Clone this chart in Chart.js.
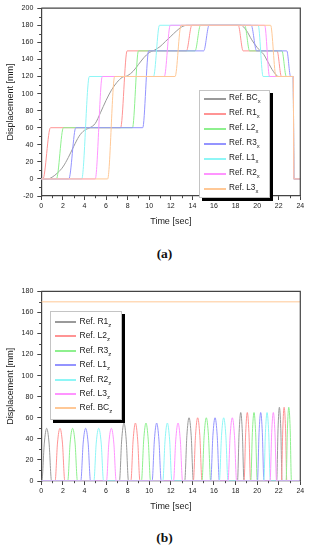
<!DOCTYPE html>
<html><head><meta charset="utf-8">
<script src="https://cdn.jsdelivr.net/npm/chart.js@4"></script>
<style>
html,body{margin:0;padding:0;background:#fff;}
body{width:311px;height:550px;position:relative;overflow:hidden;font-family:"Liberation Sans",Arial,sans-serif;}
canvas{position:absolute;left:0;}
#ca{top:0;}
#cb{top:270px;}
.leg{position:absolute;background:#fff;border:1px solid #c4c4c4;box-shadow:3px 3px 0 #000;box-sizing:border-box;}
.row{position:absolute;left:0;height:0;width:100%;}
.smp{position:absolute;height:2px;top:-1px;}
.txt{position:absolute;white-space:nowrap;color:#222;line-height:1;top:0;transform:translateY(-58%);}
.txt sub{font-size:72%;vertical-align:-0.4em;line-height:0;}
.lab{position:absolute;font-family:"Liberation Serif","Times New Roman",serif;font-weight:bold;font-size:13.5px;line-height:1;transform:translate(-50%,-50%);color:#111;}
</style></head>
<body>
<canvas id="ca" width="311" height="230" style="width:311px;height:230px"></canvas>
<canvas id="cb" width="311" height="245" style="width:311px;height:245px"></canvas>
<div class="lab" style="left:164.5px;top:253.5px">(a)</div>
<div class="lab" style="left:164.5px;top:537.5px">(b)</div>
<div id="legA" class="leg" style="left:199px;top:90px;width:71px;height:108px"></div>
<div id="legB" class="leg" style="left:50px;top:311px;width:72px;height:109px"></div>
<script>
// ---------- data: chart (a) x-displacement [time sec, mm] ----------
const namesA = ['BC','R1','L2','R3','L1','R2','L3'];
const bcX = [[0,0],[0.6,0],[1.0,2],[1.5,7],[2.0,14],[2.5,25],[3.0,38],[3.5,50],[4.0,57],[4.5,60],[5.0,65],[5.5,78],[6.0,92],[6.5,104],[7.0,113],[7.5,119],[8.0,121],[8.5,126],[9.0,134],[9.5,142],[10.0,148],[10.5,151],[11.0,155],[11.5,161],[12.0,167],[12.5,173],[13.0,178],[13.5,180],[18.5,180],[19.0,174],[19.5,163],[20.0,154],[20.3,150],[20.6,146],[21.0,137],[21.5,126],[22.0,120],[23.35,120],[23.4,0],[24,0]];
const r1X = [[0,0],[0.15,0],[0.85,60],[7.35,60],[7.95,150],[13.45,150],[13.95,180],[18.25,180],[18.7,150],[21.85,150],[22.25,120],[23.35,120],[23.4,0],[24,0]];
const l2X = [[0,0],[1.4,0],[2.05,60],[8.45,60],[9.0,150],[14.25,150],[14.75,180],[18.85,180],[19.3,150],[22.3,150],[22.7,120],[23.35,120],[23.4,0],[24,0]];
const r3X = [[0,0],[2.55,0],[3.2,60],[9.4,60],[9.95,150],[15.05,150],[15.55,180],[19.45,180],[19.95,150],[22.75,150],[23.1,120],[23.35,120],[23.4,0],[24,0]];
const l1X = [[0,0],[3.75,0],[4.45,120],[10.4,120],[10.95,180],[20.1,180],[20.55,120],[23.35,120],[23.4,0],[24,0]];
const r2X = [[0,0],[5.0,0],[5.65,120],[11.4,120],[11.95,180],[20.7,180],[21.15,120],[23.35,120],[23.4,0],[24,0]];
const l3X = [[0,0],[6.15,0],[6.8,120],[12.4,120],[12.95,180],[21.25,180],[21.75,120],[23.35,120],[23.4,0],[24,0]];
const seriesA = [bcX, r1X, l2X, r3X, l1X, r2X, l3X];

// ---------- data: chart (b) z-displacement [time sec, mm] ----------
const namesB = ['R1','L2','R3','L1','R2','L3','BC'];
const r1Z = [[0,0],[0.05,0],[0.28,36],[0.5,50],[0.72,36],[0.95,0],
  [7.24,0],[7.45,39],[7.66,55],[7.87,39],[8.08,0],
  [13.29,0],[13.49,43],[13.69,60],[13.89,43],[14.09,0],
  [18.18,0],[18.33,46],[18.48,65],[18.63,46],[18.78,0],
  [21.81,0],[21.94,50],[22.06,70],[22.19,50],[22.31,0],[24,0]];
const l2Z = [[0,0],[1.28,0],[1.5,36],[1.73,50],[1.96,36],[2.18,0],
  [8.3,0],[8.51,39],[8.72,55],[8.93,39],[9.14,0],
  [14.09,0],[14.29,43],[14.49,60],[14.69,43],[14.89,0],
  [18.79,0],[18.94,46],[19.09,65],[19.24,46],[19.39,0],
  [22.25,0],[22.38,50],[22.5,70],[22.63,50],[22.75,0],[24,0]];
const r3Z = [[0,0],[2.45,0],[2.67,36],[2.9,50],[3.13,36],[3.35,0],
  [9.28,0],[9.49,39],[9.7,55],[9.91,39],[10.12,0],
  [14.89,0],[15.09,43],[15.29,60],[15.49,43],[15.69,0],
  [19.41,0],[19.56,46],[19.71,65],[19.86,46],[20.01,0],
  [22.68,0],[22.81,50],[22.93,70],[23.06,50],[23.18,0],[24,0]];
const l1Z = [[0,0],[3.66,0],[3.88,36],[4.11,50],[4.34,36],[4.56,0],
  [10.27,0],[10.48,39],[10.69,55],[10.9,39],[11.11,0],
  [15.7,0],[15.9,43],[16.1,60],[16.3,43],[16.5,0],
  [20.03,0],[20.18,46],[20.33,65],[20.48,46],[20.63,0],[24,0]];
const r2Z = [[0,0],[4.87,0],[5.09,36],[5.32,50],[5.55,36],[5.77,0],
  [11.26,0],[11.47,39],[11.68,55],[11.89,39],[12.1,0],
  [16.5,0],[16.7,43],[16.9,60],[17.1,43],[17.3,0],
  [20.62,0],[20.77,46],[20.92,65],[21.07,46],[21.22,0],[24,0]];
const l3Z = [[0,0],[6.04,0],[6.26,36],[6.49,50],[6.72,36],[6.94,0],
  [12.25,0],[12.46,39],[12.67,55],[12.88,39],[13.09,0],
  [17.3,0],[17.5,43],[17.7,60],[17.9,43],[18.1,0],
  [21.2,0],[21.35,46],[21.5,65],[21.65,46],[21.8,0],[24,0]];
const bcZ = [[0,170],[24,170]];
const seriesB = [r1Z, l2Z, r3Z, l1Z, r2Z, l3Z, bcZ];

// ---------- styles ----------
const colorsA = ['#9a9a9a','#ff9494','#8ef08e','#9494ff','#8ef6f6','#ff94ff','#ffc896'];
const colorsB = ['#9a9a9a','#ff9494','#8ef08e','#9494ff','#8ef6f6','#ff94ff','#ffc896'];
const FONT = '"Liberation Sans", Arial, sans-serif';
const AX = '#444';

function makeDatasets(series, names, colors, sub) {
  const n = series.length;
  return series.map((s, i) => ({
    label: 'Ref. ' + names[i] + sub,
    data: s.map(p => ({x: p[0], y: p[1]})),
    borderColor: colors[i],
    borderWidth: 1,
    pointRadius: 0,
    fill: false,
    cubicInterpolationMode: 'monotone',
    order: n - i
  }));
}

const minorTicks = {
  id: 'minorTicks',
  afterDraw(chart) {
    const ctx = chart.ctx;
    const xs = chart.scales.x, ys = chart.scales.y;
    ctx.save();
    ctx.strokeStyle = AX; ctx.lineWidth = 1;
    ctx.beginPath();
    for (let i = 0; i < xs.ticks.length - 1; i++) {
      const v = (xs.ticks[i].value + xs.ticks[i+1].value) / 2;
      const px = Math.round(xs.getPixelForValue(v)) + 0.5;
      ctx.moveTo(px, chart.chartArea.bottom); ctx.lineTo(px, chart.chartArea.bottom + 2.2);
    }
    for (let i = 0; i < ys.ticks.length - 1; i++) {
      const v = (ys.ticks[i].value + ys.ticks[i+1].value) / 2;
      const py = Math.round(ys.getPixelForValue(v)) + 0.5;
      ctx.moveTo(chart.chartArea.left, py); ctx.lineTo(chart.chartArea.left - 2.2, py);
    }
    ctx.stroke();
    const a = chart.chartArea;
    ctx.lineWidth = 1.2;
    ctx.beginPath();
    ctx.moveTo(a.left, a.top); ctx.lineTo(a.right, a.top); ctx.lineTo(a.right, a.bottom);
    ctx.stroke();
    ctx.restore();
  }
};

function makeChart(id, datasets, yMin, yMax, canvasH, plotTop, plotBottom) {
  const tickFont = {family: FONT, size: 7};
  const titleFont = {family: FONT, size: 9};
  return new Chart(document.getElementById(id), {
    type: 'line',
    data: {datasets},
    options: {
      responsive: false, animation: false, devicePixelRatio: 1,
      layout: {padding: {left: 0, right: 10.7, top: plotTop, bottom: 0}},
      plugins: {legend: {display: false}, tooltip: {enabled: false}},
      scales: {
        x: {
          type: 'linear', min: 0, max: 24,
          afterFit: s => { s.height = canvasH - plotBottom; },
          ticks: {stepSize: 2, autoSkip: false, maxRotation: 0, padding: 2, color: '#222', font: tickFont},
          grid: {drawOnChartArea: false, drawTicks: true, tickLength: 4, tickColor: AX, tickWidth: 1},
          border: {display: true, color: AX, width: 1.2},
          title: {display: true, text: 'Time [sec]', color: '#222', font: titleFont, padding: {top: 0, bottom: 3.5}}
        },
        y: {
          type: 'linear', min: yMin, max: yMax,
          afterFit: s => { s.width = 41.3; },
          ticks: {stepSize: 20, autoSkip: false, padding: 4, color: '#222', font: tickFont},
          grid: {drawOnChartArea: false, drawTicks: true, tickLength: 4, tickColor: AX, tickWidth: 1},
          border: {display: true, color: AX, width: 1.2},
          title: {display: true, text: 'Displacement [mm]', color: '#222', font: titleFont, padding: {top: 5, bottom: 0}}
        }
      }
    },
    plugins: [minorTicks]
  });
}

makeChart('ca', makeDatasets(seriesA, namesA, colorsA, 'x'), -20, 200, 230, 6, 196);
makeChart('cb', makeDatasets(seriesB, namesB, colorsB, 'z'), 0, 180, 245, 21.3, 211);

function buildLegend(id, names, sub, colors, rowTop, rowStep, s0, s1, tx, fs) {
  const el = document.getElementById(id);
  names.forEach((nm, i) => {
    const row = document.createElement('div');
    row.className = 'row';
    row.style.top = Math.round(rowTop + rowStep * i) + 'px';
    const smp = document.createElement('span');
    smp.className = 'smp';
    smp.style.left = s0 + 'px'; smp.style.width = (s1 - s0) + 'px';
    smp.style.background = colors[i];
    const t = document.createElement('span');
    t.className = 'txt';
    t.style.left = tx + 'px'; t.style.fontSize = fs + 'px';
    t.innerHTML = 'Ref. ' + nm + '<sub>' + sub + '</sub>';
    row.appendChild(smp); row.appendChild(t);
    el.appendChild(row);
  });
}
buildLegend('legA', namesA, 'x', colorsA, 8, 15, 4, 26, 29, 8.2);
buildLegend('legB', namesB, 'z', colorsB, 10, 14.4, 4, 25, 28.5, 8.5);
</script>
</body></html>
